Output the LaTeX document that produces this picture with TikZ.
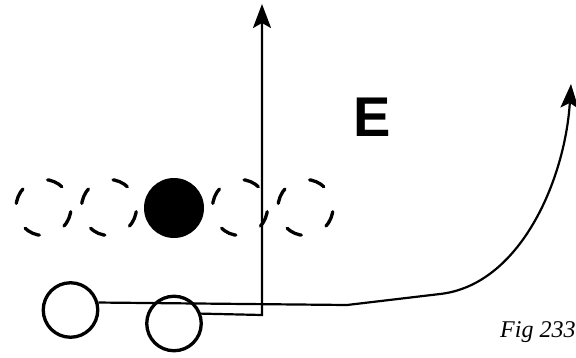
\documentclass[tikz,border=0pt]{standalone}
\usepackage{fontspec}
\setmainfont{Liberation Serif}
\newfontfamily\labelfont{Liberation Sans}
\usetikzlibrary{arrows.meta,shapes.geometric}

\begin{document}
\begin{tikzpicture}[x=1pt,y=-1pt,
  lineman/.style={draw,ellipse,line width=3.3pt,line cap=round,dash pattern=on 16pt off 27.5pt,dash phase=20.1pt,minimum width=55pt,minimum height=56pt,inner sep=0pt},
  back/.style={draw,circle,line width=3.3pt,minimum size=54.5pt,inner sep=0pt},
  route/.style={line width=2.2pt,line join=miter},
  tip/.style={-{Stealth[length=24pt,width=18pt,inset=5pt]}}]
\useasboundingbox (0,0) rectangle (576,357);
\node[lineman] (l1) at (43.5,207.5) {};
\node[lineman] (l2) at (109,207.5) {};
\node[circle,fill,minimum size=60pt,inner sep=0pt] (ball) at (174,208) {};
\node[lineman] (l4) at (240,207.5) {};
\node[lineman] (l5) at (305.5,207.5) {};
\node[back] (b1) at (70.5,310) {};
\node[back] (b2) at (174,323.5) {};
\coordinate (turn) at (262,315);
\coordinate (up) at (262,4);
\coordinate (k1) at (347,305);
\coordinate (k2) at (440,294);
\coordinate (end) at (571,84);
\draw[route,tip] (b2.20) -- (turn) -- (up);
\draw[route,tip] (b1.15) -- (k1) -- (k2) .. controls (520,285) and (565,180) .. (end);
\node[font=\labelfont\bfseries\fontsize{56}{56}\selectfont] (E) at (372,117.5) {E};
\node[font=\itshape\fontsize{24}{24}\selectfont,anchor=base west,inner sep=0pt] (fig) at (500,337) {Fig 233};
\end{tikzpicture}
\end{document}
